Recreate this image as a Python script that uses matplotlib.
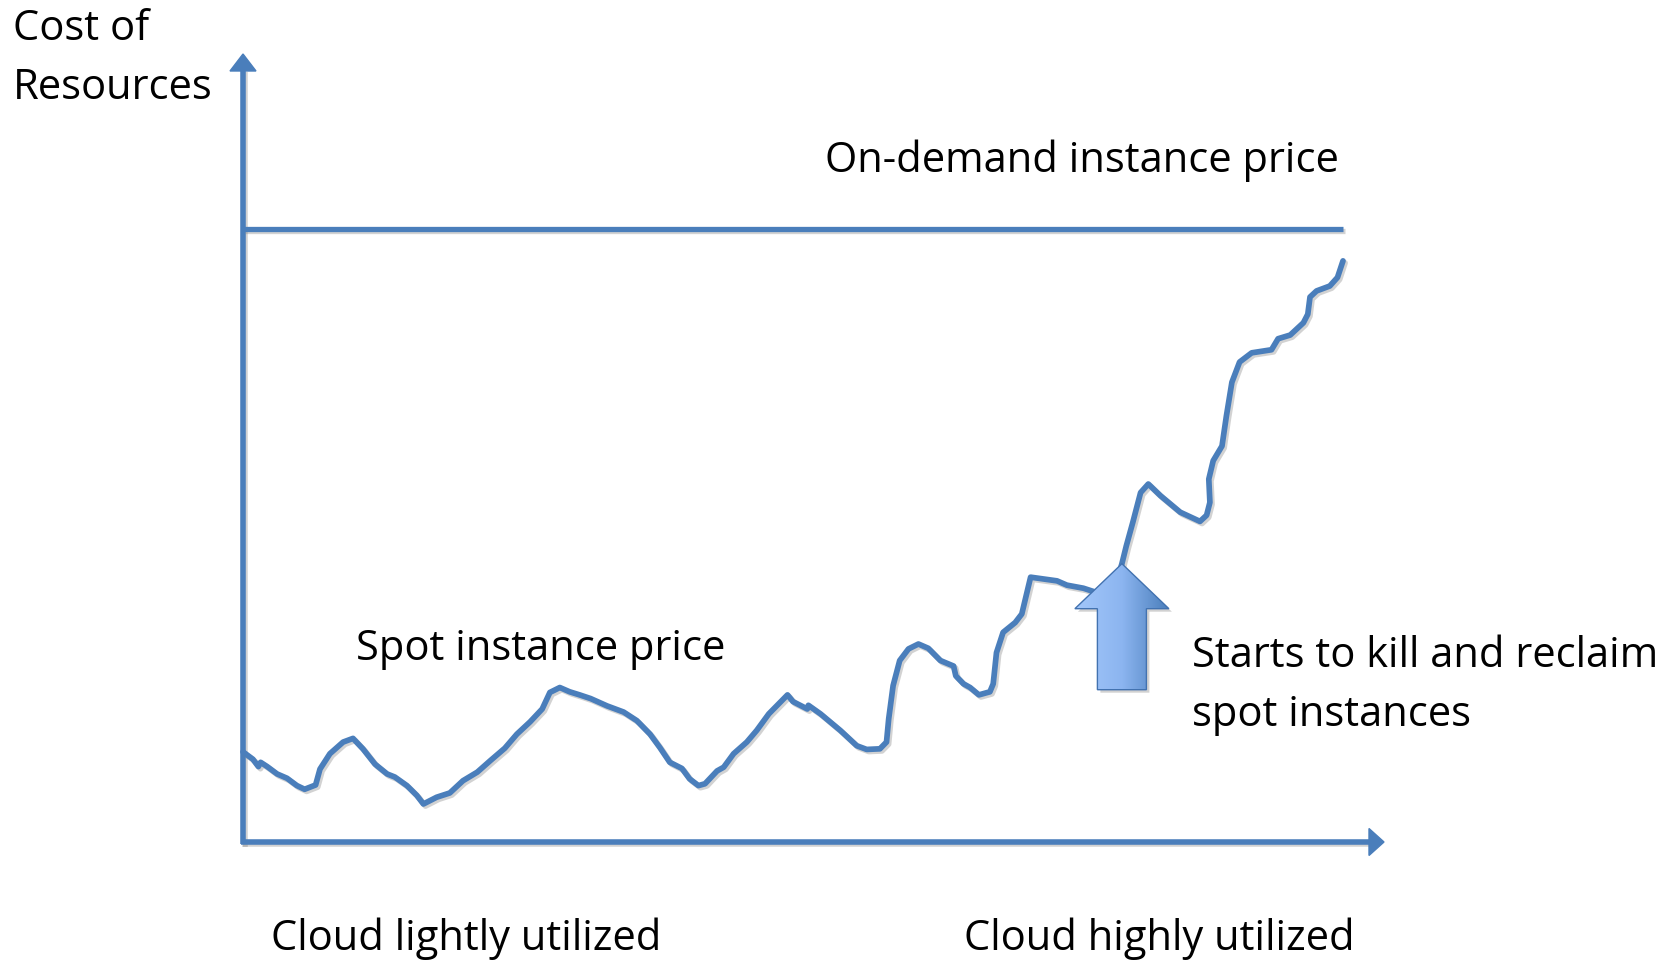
import numpy as np
import matplotlib.pyplot as plt
import matplotlib.patheffects as pe
from matplotlib.patches import Polygon
from matplotlib.colors import LinearSegmentedColormap

plt.rcParams['font.family'] = ['Open Sans', 'DejaVu Sans']

# spot price over cloud utilisation (0 = idle, 100 = full),
# cost given in % of the on-demand price
utilization = [0.0, 0.9, 1.4, 1.6, 2.2, 3.1, 4.0, 4.9, 5.6, 6.6, 7.0, 7.9, 9.1, 10.0,
               10.9, 12.0, 13.1, 13.8, 14.9, 15.8, 16.4, 17.6, 18.8, 20.0, 21.3, 22.5,
               23.8, 24.9, 26.1, 27.2, 27.9, 28.8, 29.7, 30.6, 31.6, 33.1, 34.6, 35.8,
               37.0, 37.9, 38.8, 39.9, 40.6, 41.4, 42.0, 43.1, 43.7, 44.6, 45.8, 46.7,
               47.8, 49.5, 50.0, 51.3, 51.4, 52.5, 54.3, 55.8, 56.7, 57.9, 58.5, 58.7,
               59.1, 59.7, 60.5, 61.4, 62.3, 63.4, 64.6, 64.8, 65.5, 66.1, 66.9, 67.9,
               68.2, 68.5, 69.1, 70.2, 70.8, 71.6, 74.0, 74.9, 76.4, 77.6, 78.6, 79.5,
               79.9, 80.3, 80.9, 81.6, 82.3, 83.4, 85.2, 87.0, 87.6, 87.9, 87.8, 88.2,
               89.0, 89.4, 89.9, 90.6, 91.7, 93.5, 94.1, 95.2, 96.4, 96.8, 97.0, 97.6,
               98.8, 99.5, 100.0]
spot_cost = [14.7, 13.5, 12.3, 13.0, 12.3, 11.1, 10.4, 9.2, 8.6, 9.3, 11.9, 14.4, 16.3, 16.9,
             15.2, 12.7, 11.1, 10.6, 9.2, 7.6, 6.2, 7.3, 8.0, 10.0, 11.4, 13.3,
             15.3, 17.6, 19.6, 21.7, 24.4, 25.2, 24.5, 24.0, 23.4, 22.2, 21.2, 19.8,
             17.6, 15.4, 13.0, 12.0, 10.3, 9.2, 9.5, 11.6, 12.2, 14.4, 16.3, 18.2,
             20.9, 24.0, 22.9, 21.7, 22.3, 20.9, 18.2, 15.7, 15.1, 15.2, 16.3, 20.1,
             25.5, 29.6, 31.5, 32.3, 31.6, 29.6, 28.7, 27.1, 25.8, 25.2, 24.0, 24.5,
             25.8, 30.9, 34.2, 35.8, 37.2, 43.2, 42.6, 41.9, 41.4, 40.7, 40.1, 42.9,
             45.4, 48.3, 52.2, 57.0, 58.4, 56.5, 53.8, 52.3, 53.3, 55.4, 59.2, 62.2,
             64.6, 69.5, 75.0, 78.3, 79.8, 80.3, 82.1, 82.7, 84.7, 86.1, 88.9, 89.9,
             90.7, 92.1, 94.8]
on_demand_cost = 100
reclaim_at = 79.9  # utilisation where spot instances get reclaimed

BLUE = '#4a7ebb'
W, H = 1677, 962

fig = plt.figure(figsize=(W / 100, H / 100), dpi=100)
ax = fig.add_axes([0, 0, 1, 1])
ax.axis('off')

# where the plotting frame sits on the canvas (pixels)
x0_px, x100_px = 243, 1343
y0_px, y100_px = 843, 230
sx = (x100_px - x0_px) / 100
sy = (y0_px - y100_px) / 100

shadow = [pe.SimpleLineShadow(offset=(1.5, -1.5), shadow_color='#7f7f7f', alpha=0.35), pe.Normal()]

# axes with arrow heads
y_tip = (y0_px - 55) / sy
x_tip = (1384 - x0_px) / sx
ax.plot([0, 0], [-0.4, y_tip - 16 / sy], color=BLUE, lw=4, solid_capstyle='butt',
        path_effects=shadow, zorder=2)
ax.add_patch(Polygon([(-13 / sx, y_tip - 17 / sy), (13 / sx, y_tip - 17 / sy), (0, y_tip)],
                     closed=True, color=BLUE, zorder=2))
ax.plot([-2 / sx, x_tip - 14 / sx], [0, 0], color=BLUE, lw=4, solid_capstyle='butt',
        path_effects=shadow, zorder=2)
ax.add_patch(Polygon([(x_tip - 15 / sx, 13.5 / sy), (x_tip - 15 / sx, -13.5 / sy), (x_tip, 0)],
                     closed=True, color=BLUE, zorder=2))

# on-demand price
ax.plot([0, 100], [on_demand_cost, on_demand_cost], color=BLUE, lw=3.8,
        solid_capstyle='butt', path_effects=shadow, zorder=2)

# spot price
ax.plot(utilization, spot_cost, color=BLUE, lw=4.1, solid_joinstyle='round',
        solid_capstyle='round', path_effects=shadow, zorder=2)

# block arrow marking the reclaim point
tip_c = np.interp(reclaim_at, utilization, spot_cost)
head_w, shaft_w = 94 / sx, 49 / sx
head_base = tip_c - 45 / sy
bottom = tip_c - 126 / sy
pts = [(reclaim_at - shaft_w / 2, bottom), (reclaim_at - shaft_w / 2, head_base),
       (reclaim_at - head_w / 2, head_base), (reclaim_at, tip_c),
       (reclaim_at + head_w / 2, head_base), (reclaim_at + shaft_w / 2, head_base),
       (reclaim_at + shaft_w / 2, bottom)]
sh = Polygon([(u + 3 / sx, c - 3 / sy) for u, c in pts], closed=True,
             color='#000000', alpha=0.18, lw=0, zorder=3)
ax.add_patch(sh)
arrow = Polygon(pts, closed=True, facecolor='none', edgecolor='#4272b0', lw=1, zorder=4)
ax.add_patch(arrow)
cmap = LinearSegmentedColormap.from_list('blk', ['#a3c7fa', '#8cb5f0', BLUE])
im = ax.imshow(np.linspace(0, 1, 256).reshape(1, -1), cmap=cmap, aspect='auto',
               extent=[reclaim_at - head_w / 2, reclaim_at + head_w / 2, bottom, tip_c],
               zorder=3.5)
im.set_clip_path(arrow)

ax.set_xlim(-x0_px / sx, (W - x0_px) / sx)
ax.set_ylim((y0_px - H) / sy, y0_px / sy)


def label(x, y, s):
    fig.text(x / W, 1 - y / H, s, fontsize=30, color='black', ha='left', va='baseline')


label(13, 40, 'Cost of')
label(13, 99, 'Resources')
label(825, 172, 'On-demand instance price')
label(356, 660, 'Spot instance price')
label(1192, 667, 'Starts to kill and reclaim')
label(1192, 726, 'spot instances')
label(271, 950, 'Cloud lightly utilized')
label(964, 950, 'Cloud highly utilized')

fig.savefig('out.png', dpi=100, facecolor='white')
